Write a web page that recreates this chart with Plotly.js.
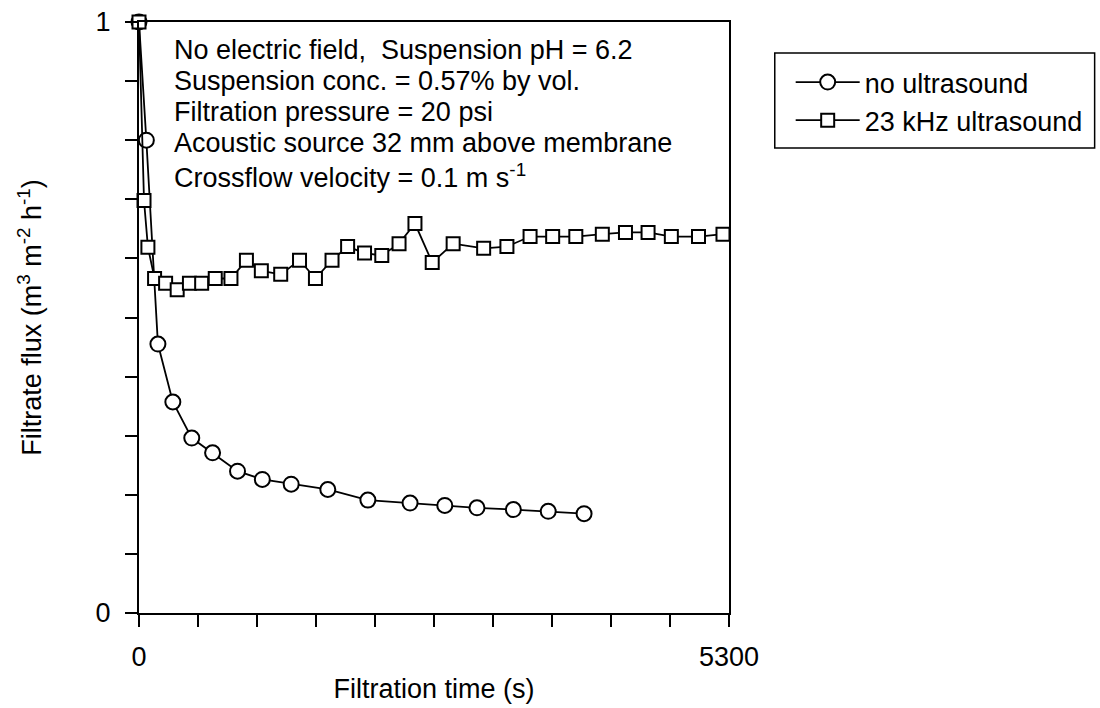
<!DOCTYPE html>
<html>
<head>
<meta charset="utf-8">
<script src="https://cdn.plot.ly/plotly-3.0.1.min.js"></script>
<style>html,body{margin:0;padding:0;background:#fff;}#chart{width:1100px;height:708px;}</style>
</head>
<body>
<div id="chart"></div>
<script>
// Data
const noUltrasoundTime = [0, 66, 170, 304, 474, 661, 885, 1108, 1367, 1696, 2056, 2435, 2747, 3036, 3363, 3676, 3998];
const noUltrasoundFlux = [1, 0.800, 0.455, 0.357, 0.296, 0.271, 0.240, 0.226, 0.218, 0.209, 0.191, 0.186, 0.182, 0.178, 0.175, 0.172, 0.168];

const ultrasoundTime = [0, 45, 80, 140, 239, 343, 453, 563, 685, 826, 965, 1099, 1273, 1442, 1585, 1734, 1874, 2026, 2181, 2336, 2479, 2634, 2822, 3096, 3305, 3513, 3716, 3924, 4162, 4370, 4573, 4782, 5026, 5246];
const ultrasoundFlux = [1, 0.698, 0.619, 0.566, 0.558, 0.547, 0.558, 0.558, 0.566, 0.566, 0.597, 0.579, 0.573, 0.597, 0.566, 0.597, 0.620, 0.609, 0.605, 0.625, 0.659, 0.593, 0.625, 0.617, 0.620, 0.637, 0.637, 0.637, 0.641, 0.644, 0.644, 0.637, 0.637, 0.641];

const seriesNames = ['no ultrasound', '23 kHz ultrasound'];
const xTickVals = [0, 530, 1060, 1590, 2120, 2650, 3180, 3710, 4240, 4770, 5300];
const xTickText = ['0', '', '', '', '', '', '', '', '', '', '5300'];
const yTickVals = [0, 0.1, 0.2, 0.3, 0.4, 0.5, 0.6, 0.7, 0.8, 0.9, 1];
const yTickText = ['0', '', '', '', '', '', '', '', '', '', '1'];
const infoLines = [
  'No electric field,  Suspension pH = 6.2',
  'Suspension conc. = 0.57% by vol.',
  'Filtration pressure = 20 psi',
  'Acoustic source 32 mm above membrane',
  'Crossflow velocity = 0.1 m s<sup>-1</sup>'
];

const FONT = 'Liberation Sans, Arial, sans-serif';
const FS = 27;

const traces = [
  {
    x: noUltrasoundTime, y: noUltrasoundFlux, name: seriesNames[0],
    mode: 'lines+markers', type: 'scatter',
    line: {color: '#000', width: 1.8},
    marker: {symbol: 'circle', size: 15, color: '#fff', line: {color: '#000', width: 2}},
    cliponaxis: false
  },
  {
    x: ultrasoundTime, y: ultrasoundFlux, name: seriesNames[1],
    mode: 'lines+markers', type: 'scatter',
    line: {color: '#000', width: 1.8},
    marker: {symbol: 'square', size: 13, color: '#fff', line: {color: '#000', width: 2}},
    cliponaxis: false
  }
];

// plot area: x 139..732 px, y 22..613 px
const PL = 139, PW = 593, PT = 22, PH = 591;
const px2x = p => (p - PL) / PW;
const px2y = p => (PT + PH - p) / PH;

const lineCenters = [50, 81, 112, 143, 176];
const annotations = infoLines.map((t, i) => ({
  xref: 'paper', yref: 'paper', x: px2x(172), y: px2y(lineCenters[i]),
  xanchor: 'left', yanchor: 'middle', align: 'left', showarrow: false,
  text: t, font: {family: FONT, size: 27, color: '#000'}
}));

const layout = {
  width: 1100, height: 708,
  margin: {l: PL, r: 1100 - PL - PW, t: PT, b: 708 - PT - PH},
  paper_bgcolor: '#fff', plot_bgcolor: '#fff',
  font: {family: FONT, size: FS, color: '#000'},
  showlegend: true,
  legend: {
    x: px2x(794), y: px2y(58), xanchor: 'left', yanchor: 'top',
    borderwidth: 0, bgcolor: 'rgba(0,0,0,0)',
    itemwidth: 64,
    font: {family: FONT, size: FS, color: '#000'},
    tracegroupgap: 0
  },
  shapes: [
    {type: 'rect', xref: 'paper', yref: 'paper', layer: 'below',
     x0: px2x(778), x1: px2x(1099.5), y0: px2y(148), y1: px2y(53),
     line: {color: '#000', width: 1.5}, fillcolor: 'rgba(0,0,0,0)'}
  ],
  xaxis: {
    range: [0, 5300], tickmode: 'array', tickvals: xTickVals, ticktext: xTickText,
    ticks: 'outside', ticklen: 12, tickwidth: 2, tickcolor: '#000', ticklabelstandoff: 7,
    showline: true, linecolor: '#000', linewidth: 2, mirror: true,
    showgrid: false, zeroline: false, automargin: false,
    tickfont: {family: FONT, size: FS, color: '#000'},
    title: {text: 'Filtration time (s)', font: {family: FONT, size: FS, color: '#000'}, standoff: 8}
  },
  yaxis: {
    range: [0, 1], tickmode: 'array', tickvals: yTickVals, ticktext: yTickText,
    ticks: 'outside', ticklen: 12, tickwidth: 2, tickcolor: '#000', ticklabelstandoff: 9,
    showline: true, linecolor: '#000', linewidth: 2, mirror: true,
    showgrid: false, zeroline: false, automargin: false,
    tickfont: {family: FONT, size: FS, color: '#000'},
    title: {text: 'Filtrate flux (m<sup>3</sup> m<sup>-2</sup> h<sup>-1</sup>)', font: {family: FONT, size: FS, color: '#000'}, standoff: 46}
  },
  annotations: annotations
};

Plotly.newPlot('chart', traces, layout, {displayModeBar: false, staticPlot: true});
</script>
</body>
</html>
